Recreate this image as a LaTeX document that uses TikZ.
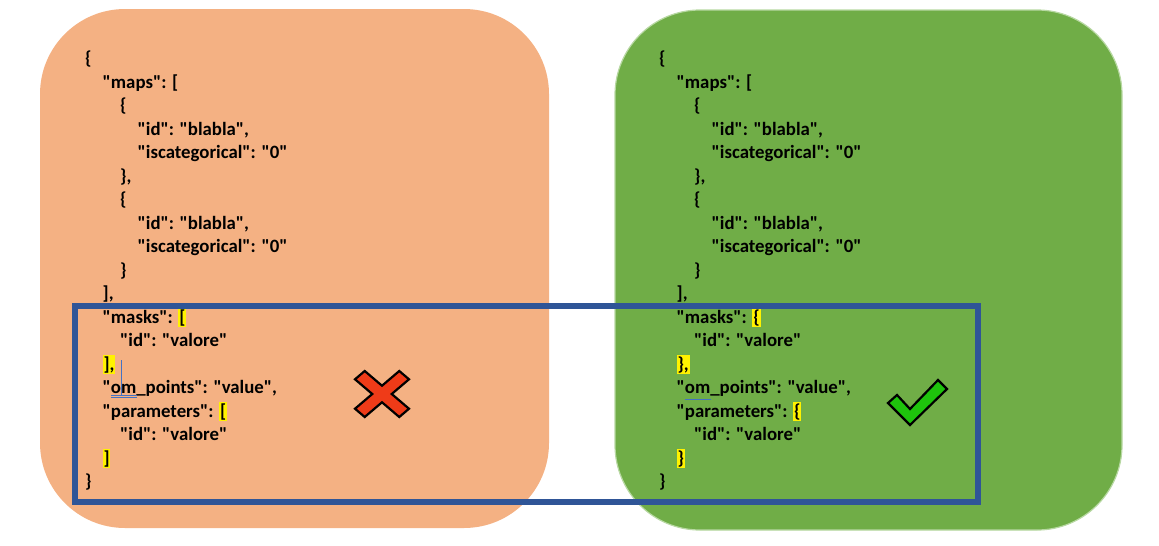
\documentclass[tikz,border=0pt]{standalone}
\usepackage{fontspec}
\setmainfont{Carlito}[Ligatures=TeXOff]
\usepackage{tikz}
\usetikzlibrary{positioning}
\definecolor{boxorange}{HTML}{F4B183}
\definecolor{boxgreen}{HTML}{70AD47}
\definecolor{greenedge}{HTML}{B7D8A2}
\definecolor{frameblue}{HTML}{2F5597}
\definecolor{crossred}{HTML}{EF3B18}
\definecolor{tickgreen}{HTML}{1EC40C}
\definecolor{wordblue}{HTML}{4472C4}
\newcommand{\hl}[1]{{\fboxsep=0.8pt\colorbox{yellow}{#1}}}

\begin{document}
\begin{tikzpicture}[
	x=1pt, y=-1pt,
	code/.style = {anchor=base west, inner sep=0pt, font=\fontsize{18.8}{23.5}\selectfont\bfseries},
	symbolmark/.style = {draw=black, line width=2.2pt, line join=miter}
	]
	\useasboundingbox (0,0) rectangle (1159,546);

	% the two panels
	\fill[boxorange, rounded corners=85] (40,9) rectangle (549,528);
	\draw[greenedge, fill=boxgreen, line width=1.2pt, rounded corners=85] (615,10) rectangle (1122,530);

	% json text, wrong (l) and right (r)
	\foreach \s/\xo/\ob/\cb in {l/85/{[}/{]}, r/659/{\{}/{\}}} {
		\foreach \k/\ind/\txt in {
			1/0/{\{},
			2/1/{"maps": [},
			3/2/{\{},
			4/3/{"id": "blabla",},
			5/3/{"iscategorical": "0"},
			6/2/{\},},
			7/2/{\{},
			8/3/{"id": "blabla",},
			9/3/{"iscategorical": "0"},
			10/2/{\}},
			11/1/{],},
			12/1/{"masks": \hl{\ob}},
			13/2/{"id": "valore"},
			14/1/{\hl{\cb,}},
			15/1/{"om\_points": "value",},
			16/1/{"parameters": \hl{\ob}},
			17/2/{"id": "valore"},
			18/1/{\hl{\cb}},
			19/0/{\}}}
			\node[code] (\s\k) at (\xo+17.5*\ind, 64.5+23.5*\k-23.5) {\txt};
	}

	% word marks
	\draw[wordblue, line width=0.8pt] (121,360) -- (121,395);
	\draw[wordblue, line width=0.7pt] (111,395.5) -- (137,395.5);
	\draw[wordblue, line width=0.7pt] (111,397.8) -- (137,397.8);
	\draw[wordblue, line width=0.8pt] (685,399) -- (711,399);

	% frame round the changed part
	\draw[frameblue, line width=5.5pt] (75,306) rectangle (978,502);

	% cross
	\begin{scope}[shift={(382,394)}, xscale=1.08, yscale=0.92]
		\draw[symbolmark, fill=crossred] (-25,-16) -- (-16,-25) -- (0,-9) -- (16,-25) -- (25,-16) -- (9,0)
			-- (25,16) -- (16,25) -- (0,9) -- (-16,25) -- (-25,16) -- (-9,0) -- cycle;
	\end{scope}

	% tick
	\draw[symbolmark, fill=tickgreen] (897,395) -- (910,409) -- (938,380) -- (947,389) -- (910,425) -- (888,403) -- cycle;

\end{tikzpicture}
\end{document}
